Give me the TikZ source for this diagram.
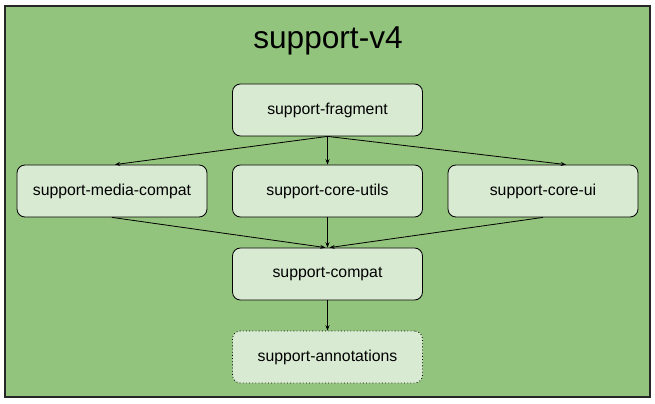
\documentclass[tikz,border=0pt]{standalone}
\usepackage{fontspec}
\setmainfont{Liberation Sans}
\usetikzlibrary{arrows.meta,positioning}
\definecolor{outergreen}{HTML}{93C47D}
\definecolor{lightgreen}{HTML}{D9EAD3}
\tikzset{
  module box/.style={rectangle,draw=black,fill=lightgreen,rounded corners=0.24cm,
    minimum width=5.7cm,minimum height=1.56cm,inner sep=0pt,line width=0.7pt,
    font=\fontsize{13.5}{16}\selectfont},
  optional box/.style={module box,dotted},
  dep edge/.style={-{Stealth[length=1.6mm,width=1.2mm]},line width=0.7pt},
  outer box/.style={rectangle,draw=black!85,fill=outergreen,line width=0.9pt,
    minimum width=19.35cm,minimum height=11.73cm,inner sep=0pt},
}
\begin{document}
\begin{tikzpicture}[x=0.03cm,y=-0.03cm]
  \useasboundingbox (0,0) rectangle (655,404);
  \node[outer box] (v4) at (327.5,201.5) {};
  \node[font=\fontsize{27}{32}\selectfont] (title) at (328,41) {support-v4};

  \node[module box] (frag) at (327.5,110) {support-fragment};
  \node[module box] (media) at (112,191) {support-media-compat};
  \node[module box] (utils) at (327.5,191) {support-core-utils};
  \node[module box] (ui) at (543,191) {support-core-ui};
  \node[module box] (compat) at (327.5,274) {support-compat};
  \node[optional box] (annot) at (327.5,357) {support-annotations};

  \draw[dep edge] (frag.south) -- ([xshift=0.09cm]media.north);
  \draw[dep edge] (frag.south) -- (utils.north);
  \draw[dep edge] (frag.south) -- ([xshift=0.69cm]ui.north);
  \draw[dep edge] (media.south) -- ([xshift=-0.06cm]compat.north);
  \draw[dep edge] (utils.south) -- (compat.north);
  \draw[dep edge] (ui.south) -- ([xshift=0.06cm]compat.north);
  \draw[dep edge] (compat.south) -- (annot.north);
\end{tikzpicture}
\end{document}
